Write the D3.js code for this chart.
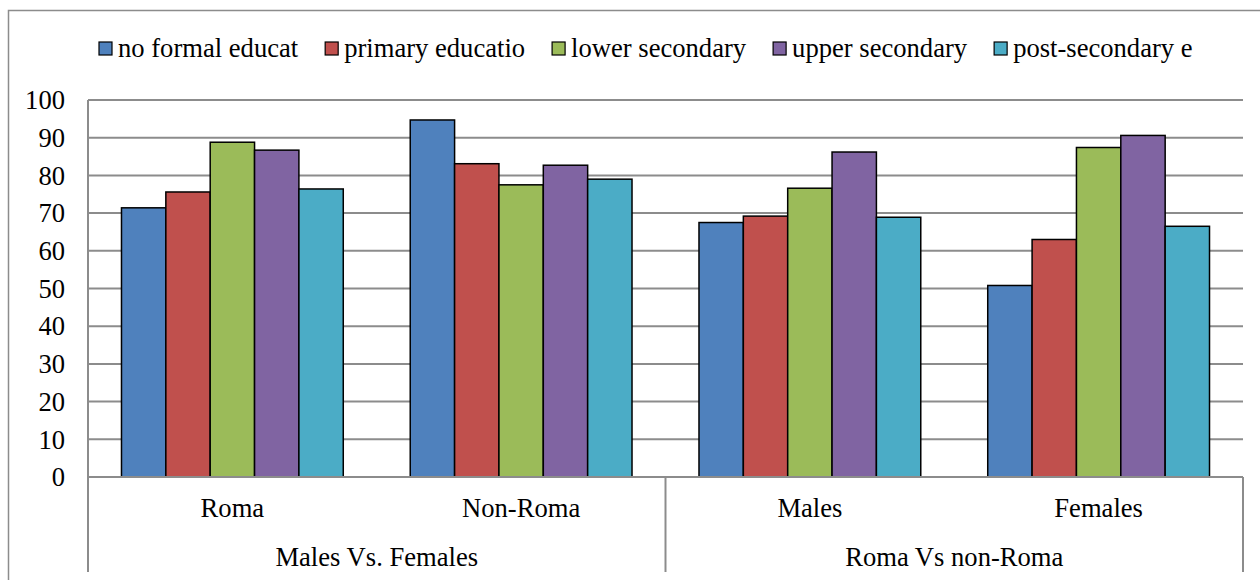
<!DOCTYPE html>
<html>
<head>
<meta charset="utf-8">
<script src="https://cdn.jsdelivr.net/npm/d3@7/dist/d3.min.js"></script>
<style>
  html, body { margin: 0; padding: 0; background: #fff; }
  svg text { font-family: "Liberation Serif", "Times New Roman", Times, serif !important; fill: #000; }
</style>
</head>
<body>
<svg id="chart" width="1260" height="580"></svg>
<script>
const groups = ["Males Vs. Females", "Roma Vs non-Roma"];
const categories = ["Roma", "Non-Roma", "Males", "Females"];
const categoryGroup = ["Males Vs. Females", "Males Vs. Females", "Roma Vs non-Roma", "Roma Vs non-Roma"];
const series = ["no formal educat", "primary educatio", "lower secondary", "upper secondary", "post-secondary e"];
const noFormal      = [71.4, 94.7, 67.5, 50.8];
const primary       = [75.6, 83.1, 69.2, 63.0];
const lowerSecondary= [88.8, 77.5, 76.6, 87.4];
const upperSecondary= [86.7, 82.7, 86.2, 90.6];
const postSecondary = [76.4, 79.0, 68.9, 66.5];
const seriesValues = [noFormal, primary, lowerSecondary, upperSecondary, postSecondary];
const colors = ["#4F81BD", "#C0504D", "#9BBB59", "#8064A2", "#4BACC6"];
const yTicks = [0, 10, 20, 30, 40, 50, 60, 70, 80, 90, 100];

(function () {
const svg = d3.select("#chart");
const pLeft = 88, pRight = 1243, pTop = 100, pBottom = 477, axisBottom = 572;
const fontSize = 26.6;

// outer border
svg.append("rect").attr("x", 8.5).attr("y", 10.5).attr("width", 1260).attr("height", 600)
  .attr("fill", "none").attr("stroke", "#8c8c8c").attr("stroke-width", 1.5);

const y = d3.scaleLinear().domain([0, 100]).range([pBottom, pTop]);
const x0 = d3.scaleBand().domain(categories).range([pLeft, pRight]).padding(0);
const x1 = d3.scaleBand().domain(series).range([0, x0.bandwidth()]).paddingInner(0).paddingOuter(0.755);

// gridlines
svg.append("g").selectAll("line").data(yTicks.filter(d => d > 0)).join("line")
  .attr("x1", pLeft).attr("x2", pRight)
  .attr("y1", d => y(d)).attr("y2", d => y(d))
  .attr("stroke", "#8c8c8c").attr("stroke-width", 2);

// y axis labels
const yAxis = d3.axisLeft(y).tickValues(yTicks).tickSize(0).tickPadding(23).tickFormat(d3.format("d"));
const ya = svg.append("g").attr("transform", `translate(${pLeft},0)`).call(yAxis);
ya.select(".domain").remove();
ya.attr("font-size", null).attr("font-family", null);
ya.selectAll("text").style("font-size", fontSize + "px").attr("dy", "0.33em");

// bars
const flat = [];
categories.forEach((c, ci) => series.forEach((s, si) => flat.push({c, s, si, v: seriesValues[si][ci]})));
svg.append("g").selectAll("rect").data(flat).join("rect")
  .attr("x", d => x0(d.c) + x1(d.s))
  .attr("y", d => y(d.v))
  .attr("width", x1.bandwidth())
  .attr("height", d => y(0) - y(d.v))
  .attr("fill", d => colors[d.si])
  .attr("stroke", "#000").attr("stroke-width", 1.5);

// x axis line and structure
const ax = svg.append("g").attr("stroke", "#8c8c8c").attr("stroke-width", 2);
ax.append("line").attr("x1", pLeft).attr("x2", pRight).attr("y1", pBottom).attr("y2", pBottom);
ax.append("line").attr("x1", pLeft).attr("x2", pLeft).attr("y1", pTop).attr("y2", axisBottom);
const groupBounds = groups.map(g => {
  const cats = categories.filter((c, i) => categoryGroup[i] === g);
  return {g, x0: x0(cats[0]), x1: x0(cats[cats.length - 1]) + x0.bandwidth()};
});
groupBounds.forEach(b => {
  ax.append("line").attr("x1", b.x1).attr("x2", b.x1).attr("y1", pBottom).attr("y2", axisBottom);
});

// category labels
svg.append("g").selectAll("text").data(categories).join("text")
  .attr("x", d => x0(d) + x0.bandwidth() / 2)
  .attr("y", 517)
  .attr("text-anchor", "middle")
  .style("font-size", fontSize + "px")
  .text(d => d);

svg.append("g").selectAll("text").data(groupBounds).join("text")
  .attr("x", d => (d.x0 + d.x1) / 2)
  .attr("y", 566)
  .attr("text-anchor", "middle")
  .style("font-size", fontSize + "px")
  .text(d => d.g);

// legend
const lg = svg.append("g");
let lx = 99;
series.forEach((s, i) => {
  lg.append("rect").attr("x", lx).attr("y", 42).attr("width", 13).attr("height", 13)
    .attr("fill", colors[i]).attr("stroke", "#000").attr("stroke-width", 1.2);
  const t = lg.append("text").attr("x", lx + 19).attr("y", 57)
    .style("font-size", fontSize + "px").text(s);
  lx = lx + 19 + t.node().getComputedTextLength() + 27;
});
})();
</script>
</body>
</html>
